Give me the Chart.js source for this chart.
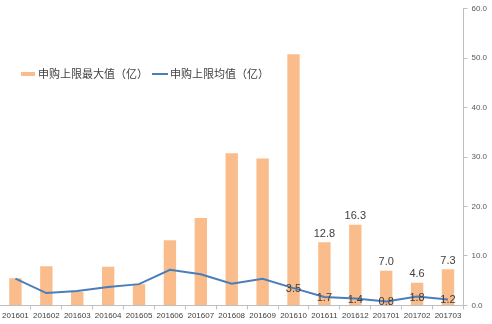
<!DOCTYPE html>
<html><head><meta charset="utf-8">
<script src="https://cdn.jsdelivr.net/npm/chart.js@4/dist/chart.umd.min.js"></script>
<style>html,body{margin:0;padding:0;background:#fff;}#wrap{width:492px;height:324px;}</style>
</head><body><div id="wrap"><canvas id="c" width="492" height="324"></canvas></div>
<script>
const categories = ['201601','201602','201603','201604','201605','201606','201607','201608','201609','201610','201611','201612','201701','201702','201703'];
const maxValues = [5.5,7.9,2.7,7.8,4.3,13.2,17.7,30.8,29.7,50.8,12.8,16.3,7.0,4.6,7.3];
const avgValues = [5.4,2.5,2.9,3.7,4.3,7.2,6.3,4.4,5.4,3.5,1.7,1.4,0.8,1.8,1.2];
const seriesNames = ['申购上限最大值（亿）','申购上限均值（亿）'];
const yTicks = [0,10,20,30,40,50,60];
const barLabelFrom = 10;
const lineLabelFrom = 9;

const labelPlugin = {
  id:'labels',
  afterDatasetsDraw(chart){
    const ctx = chart.ctx;
    ctx.save();
    ctx.font = '11px "Liberation Sans", Arial, sans-serif';
    ctx.fillStyle = '#404040';
    ctx.textAlign = 'center';
    const bm = chart.getDatasetMeta(0);
    bm.data.forEach((el,i)=>{
      if(i>=barLabelFrom){
        ctx.textBaseline='bottom';
        ctx.fillText(maxValues[i].toFixed(1), el.x, el.y-3);
      }
    });
    const lm = chart.getDatasetMeta(1);
    lm.data.forEach((el,i)=>{
      if(i>=lineLabelFrom){
        ctx.textBaseline='middle';
        ctx.fillText(avgValues[i].toFixed(1), el.x, el.y+1);
      }
    });
    // legend
    ctx.font = '11px "Noto Sans CJK SC", sans-serif';
    ctx.textAlign='left'; ctx.textBaseline='middle';
    ctx.fillStyle = '#F9BC8A';
    ctx.fillRect(21,72,14,4);
    ctx.fillStyle = '#404040';
    ctx.fillText(seriesNames[0], 38, 74);
    ctx.strokeStyle = '#4A7EBB'; ctx.lineWidth=2;
    ctx.beginPath(); ctx.moveTo(152,74); ctx.lineTo(168,74); ctx.stroke();
    ctx.fillText(seriesNames[1], 170, 74);
    ctx.restore();
  }
};

new Chart(document.getElementById('c'), {
  data:{
    labels: categories,
    datasets:[
      {type:'bar', label:seriesNames[0], data:maxValues, backgroundColor:'#F9BC8A', categoryPercentage:1, barPercentage:0.4, order:2},
      {type:'line', label:seriesNames[1], data:avgValues, borderColor:'#4A7EBB', borderWidth:2, pointRadius:0, tension:0, order:1}
    ]
  },
  options:{
    responsive:false, animation:false,
    layout:{padding:{left:0,right:1,top:4,bottom:1}},
    plugins:{legend:{display:false}, tooltip:{enabled:false}},
    scales:{
      x:{
        grid:{drawOnChartArea:false, drawTicks:true, tickLength:4, color:'#bfbfbf'},
        border:{color:'#bfbfbf'},
        ticks:{color:'#404040', font:{size:8, family:'"Liberation Sans", Arial, sans-serif'}, maxRotation:0, autoSkip:false, padding:2}
      },
      y:{
        position:'right', min:0, max:60,
        afterBuildTicks(ax){ ax.ticks = yTicks.map(v=>({value:v})); },
        grid:{drawOnChartArea:false, drawTicks:true, tickLength:4, color:'#bfbfbf'},
        border:{color:'#bfbfbf'},
        ticks:{color:'#595959', font:{size:8, family:'"Liberation Sans", Arial, sans-serif'}, padding:4, callback:v=>Number(v).toFixed(1)}
      }
    }
  },
  plugins:[labelPlugin]
});
</script></body></html>
